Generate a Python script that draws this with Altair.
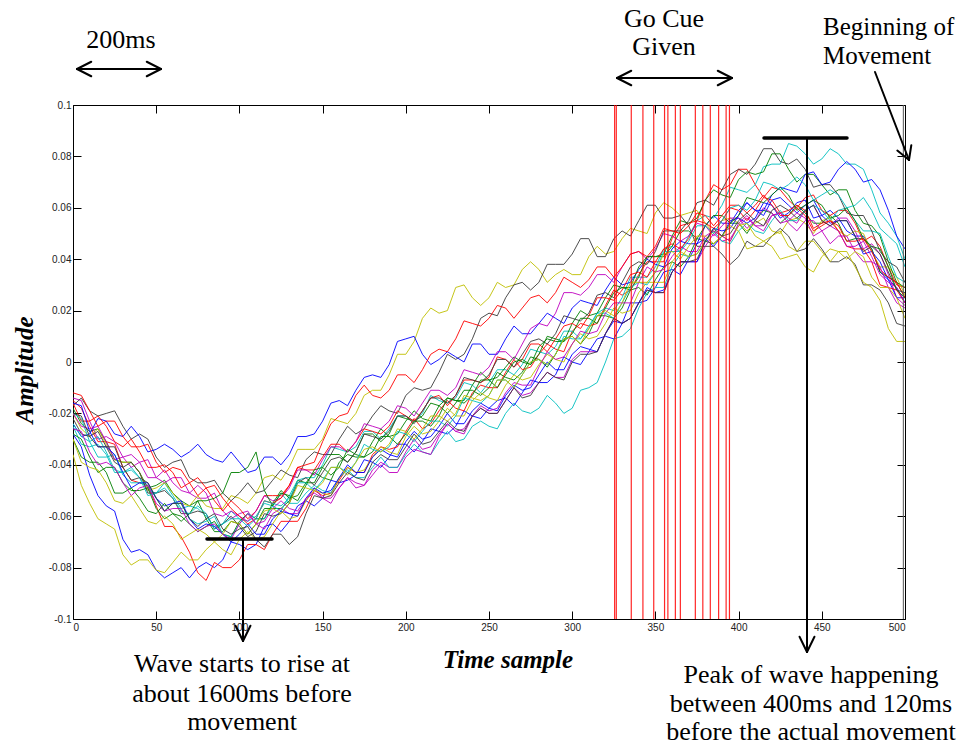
import altair as alt
import pandas as pd
import math

# ---------------- data ----------------
sample_index = list(range(0, 501, 5))

# amplitudes, in thousandths (x 0.001), one value every 5 samples
blue_1 = [-28,-33,-44,-52,-56,-58,-69,-74,-73,-75,-81,-84,-82,-80,-84,-80,-78,-80,-77,-70,-71,-73,-71,-64,-63,-66,-62,-56,-54,-56,-53,-46,-47,-46,-44,-38,-39,-41,-37,-32,-32,-35,-31,-26,-27,-28,-25,-19,-21,-22,-18,-15,-14,-17,-12,-7,-8,-8,-5,2,0,-1,4,9,10,9,15,23,23,24,29,35,36,34,40,46,48,45,49,55,56,54,56,62,61,56,58,62,63,56,57,59,56,51,49,49,44,35,32,29,23]
green_1 = [-18,-24,-27,-26,-31,-38,-39,-39,-43,-49,-48,-46,-51,-54,-56,-54,-61,-66,-66,-62,-63,-67,-63,-57,-57,-57,-54,-46,-47,-47,-41,-36,-36,-39,-35,-28,-28,-31,-28,-21,-22,-23,-21,-16,-17,-20,-16,-11,-11,-13,-10,-4,-6,-7,-4,2,1,-2,3,9,10,7,11,18,18,17,21,28,29,26,32,37,39,37,41,48,47,46,49,54,54,50,55,59,58,54,57,61,58,54,54,57,54,47,48,48,44,35,33,31,25]
red_1 = [-15,-18,-25,-31,-31,-32,-41,-46,-47,-48,-56,-64,-64,-68,-74,-82,-85,-78,-80,-80,-77,-71,-71,-73,-67,-62,-62,-62,-57,-50,-52,-51,-46,-41,-43,-43,-36,-33,-34,-33,-27,-22,-26,-24,-19,-15,-18,-19,-12,-9,-10,-10,-4,1,-3,-2,3,7,5,4,12,15,14,15,22,28,26,28,34,39,39,39,48,53,54,55,63,69,67,69,75,75,69,64,68,67,63,60,64,65,59,57,59,59,54,47,49,45,37,30,29]
cyan_1 = [-25,-32,-33,-32,-36,-43,-43,-41,-45,-50,-51,-47,-52,-57,-56,-57,-60,-64,-63,-58,-61,-62,-60,-55,-56,-58,-52,-46,-45,-45,-40,-33,-34,-35,-33,-27,-27,-30,-26,-21,-21,-23,-20,-13,-15,-16,-14,-8,-9,-12,-8,-3,-3,-5,-1,5,4,3,6,12,12,9,14,19,21,20,25,33,33,33,37,44,45,43,49,55,57,56,61,68,67,66,69,76,77,77,85,84,81,77,79,83,81,77,77,75,67,58,54,49,40]
magenta_1 = [-14,-15,-23,-30,-29,-31,-37,-41,-39,-38,-45,-47,-45,-45,-51,-53,-53,-51,-58,-61,-59,-58,-63,-65,-59,-57,-59,-59,-54,-49,-53,-53,-49,-45,-47,-48,-42,-39,-41,-41,-35,-30,-34,-33,-28,-24,-27,-28,-21,-18,-20,-20,-15,-10,-13,-12,-8,-4,-6,-6,1,4,4,4,11,17,15,17,23,28,27,27,35,39,39,39,45,50,47,48,53,56,53,51,57,58,56,54,59,61,55,53,56,56,51,44,46,42,34,25,22]
yellow_1 = [-20,-26,-29,-26,-32,-38,-39,-39,-43,-50,-49,-47,-51,-55,-56,-52,-56,-57,-57,-52,-53,-55,-51,-45,-44,-46,-41,-34,-34,-34,-30,-22,-23,-24,-20,-13,-11,-11,-5,3,3,8,17,21,19,20,29,30,25,22,25,31,29,30,36,39,36,31,34,36,34,34,41,45,42,43,48,52,51,50,58,62,60,57,58,59,54,50,55,56,54,51,54,56,51,50,55,56,54,50,55,56,51,49,51,50,43,37,37,33,26]
black_1 = [-17,-14,-19,-21,-20,-19,-25,-30,-28,-30,-37,-41,-39,-38,-45,-47,-47,-46,-51,-54,-51,-47,-51,-50,-46,-42,-44,-45,-38,-35,-36,-36,-30,-25,-28,-26,-21,-17,-19,-20,-13,-10,-11,-10,-4,3,1,3,9,17,19,18,25,30,31,28,31,38,38,38,42,48,48,41,41,48,51,49,55,61,61,56,56,57,53,45,45,45,42,38,41,47,45,45,49,52,49,43,44,48,44,39,39,41,38,30,30,28,23,15,14]
blue_2 = [-24,-29,-28,-22,-23,-28,-29,-25,-29,-35,-34,-32,-34,-37,-35,-32,-36,-38,-39,-35,-39,-43,-42,-37,-37,-40,-36,-29,-29,-28,-23,-16,-15,-17,-11,-6,-5,-6,-1,8,9,10,3,-1,1,4,2,0,7,7,3,3,9,14,11,11,15,19,17,15,21,24,23,22,28,33,30,31,36,40,38,37,44,47,46,46,53,57,54,54,59,62,59,57,63,64,61,58,61,63,57,54,55,55,49,42,43,39,32,25,25]
green_2 = [-28,-30,-37,-43,-41,-41,-47,-50,-50,-49,-57,-61,-59,-60,-63,-66,-64,-62,-67,-68,-62,-59,-61,-61,-55,-50,-53,-52,-47,-43,-45,-46,-39,-36,-37,-37,-31,-26,-29,-28,-23,-19,-22,-23,-17,-14,-15,-15,-9,-4,-7,-6,-2,2,0,-1,6,9,8,8,15,20,18,19,25,30,29,29,37,41,41,42,49,55,54,56,63,67,65,64,71,74,73,74,81,81,75,70,73,73,69,65,67,67,59,54,53,49,39,31,29]
red_2 = [-16,-23,-23,-21,-25,-31,-33,-30,-35,-41,-41,-40,-43,-49,-47,-45,-49,-54,-58,-54,-57,-61,-58,-52,-52,-52,-48,-41,-42,-42,-37,-32,-32,-35,-31,-26,-27,-28,-25,-19,-21,-23,-19,-14,-13,-17,-13,-7,-7,-8,-6,2,1,-2,1,7,7,4,9,14,15,13,18,25,25,24,28,34,35,33,39,44,46,44,48,55,54,52,55,60,59,55,59,64,63,58,59,61,59,52,54,55,51,45,44,44,39,30,29,28,23]
cyan_2 = [-20,-22,-31,-37,-37,-36,-44,-47,-47,-48,-53,-58,-55,-55,-61,-63,-62,-60,-67,-68,-63,-59,-61,-61,-56,-51,-55,-55,-51,-48,-50,-51,-45,-42,-45,-45,-41,-37,-41,-41,-36,-32,-35,-36,-31,-27,-31,-30,-25,-23,-25,-26,-20,-16,-19,-20,-18,-13,-16,-20,-18,-11,-10,-8,0,9,10,13,21,27,29,29,37,42,41,42,47,51,47,46,51,54,51,50,55,59,55,55,59,61,59,55,59,60,55,51,51,50,41,33,31]
magenta_2 = [-20,-25,-26,-25,-31,-38,-37,-36,-39,-45,-45,-42,-47,-50,-51,-48,-51,-59,-60,-58,-60,-62,-58,-52,-54,-53,-49,-42,-42,-44,-38,-33,-33,-35,-31,-24,-25,-26,-23,-17,-18,-21,-16,-11,-11,-13,-10,-3,-4,-5,-2,4,4,1,7,13,15,14,19,27,27,26,29,34,34,31,37,42,43,40,44,50,49,47,49,54,53,49,53,56,56,52,55,60,58,54,55,58,56,49,51,53,51,45,45,47,41,34,31,29,23]
yellow_2 = [-36,-48,-55,-61,-63,-65,-75,-79,-77,-77,-81,-82,-78,-74,-77,-77,-73,-70,-73,-75,-69,-66,-69,-68,-63,-58,-61,-60,-54,-50,-51,-52,-45,-41,-43,-42,-37,-33,-35,-36,-29,-25,-28,-27,-23,-18,-21,-21,-15,-12,-14,-15,-9,-5,-7,-6,-1,3,1,0,7,11,9,10,15,21,19,20,27,31,31,31,39,43,41,42,47,51,49,47,53,54,49,47,49,51,45,43,47,47,43,39,43,43,37,31,29,24,13,8,8]
black_2 = [-22,-28,-29,-27,-33,-39,-41,-39,-43,-51,-51,-50,-53,-59,-59,-58,-59,-65,-63,-60,-64,-68,-66,-59,-60,-59,-55,-47,-45,-48,-43,-38,-37,-39,-35,-28,-29,-30,-27,-21,-21,-24,-19,-14,-14,-16,-13,-6,-7,-8,-5,1,1,-2,3,8,9,7,11,18,17,16,19,26,27,25,31,37,39,38,43,51,51,51,55,62,63,61,67,73,75,73,77,83,83,78,77,79,75,68,69,69,65,58,57,57,51,43,39,37,31]
blue_3 = [-16,-17,-27,-33,-33,-36,-43,-49,-47,-47,-53,-56,-55,-54,-61,-65,-63,-64,-67,-70,-67,-63,-67,-67,-61,-58,-59,-60,-53,-49,-51,-50,-45,-40,-43,-43,-37,-34,-36,-37,-31,-27,-30,-29,-25,-20,-24,-24,-19,-16,-18,-19,-13,-9,-11,-10,-5,0,-3,-3,3,6,5,4,11,16,15,17,23,29,27,28,35,39,39,39,47,52,51,52,57,62,59,59,65,68,67,66,73,74,69,70,75,78,75,70,71,67,59,49,44]
green_3 = [-30,-37,-39,-39,-43,-51,-51,-49,-53,-58,-59,-55,-59,-62,-59,-54,-54,-53,-51,-43,-43,-41,-35,-50,-56,-51,-52,-54,-48,-42,-41,-44,-41,-34,-36,-37,-35,-29,-29,-32,-28,-23,-23,-25,-21,-14,-15,-16,-13,-7,-7,-10,-5,0,1,-1,3,10,9,8,11,17,17,15,21,27,29,28,33,41,41,41,45,51,51,48,53,57,57,54,57,64,63,62,65,68,65,59,61,63,61,56,57,60,55,48,45,44,37,28,25]
red_3 = [-12,-13,-19,-25,-23,-23,-29,-33,-33,-32,-39,-43,-41,-42,-47,-52,-49,-48,-53,-57,-60,-63,-61,-54,-55,-53,-48,-41,-40,-39,-31,-24,-21,-20,-13,-9,-13,-14,-11,-5,-5,-8,-3,3,5,4,9,16,15,14,17,22,21,17,21,25,26,23,27,33,31,29,32,37,37,33,37,42,43,41,45,52,51,50,53,58,57,53,57,61,61,58,61,65,61,57,57,60,57,51,53,55,53,47,47,48,43,36,33,31,25]
cyan_3 = [-24,-29,-31,-29,-35,-42,-43,-42,-45,-52,-51,-49,-53,-58,-59,-56,-59,-65,-63,-61,-61,-64,-61,-54,-55,-56,-53,-47,-47,-50,-46,-41,-41,-43,-39,-32,-34,-35,-33,-27,-28,-31,-27,-23,-23,-25,-21,-14,-15,-16,-13,-7,-7,-10,-5,0,1,-1,3,10,9,9,13,19,19,17,23,29,31,30,35,43,43,43,47,53,53,50,55,60,61,59,63,70,69,67,69,72,69,63,65,67,65,60,61,64,59,52,49,46,37]
magenta_3 = [-26,-27,-35,-40,-39,-41,-47,-52,-49,-48,-55,-58,-57,-57,-63,-66,-64,-63,-67,-69,-63,-59,-63,-62,-57,-54,-57,-58,-53,-51,-53,-55,-49,-45,-49,-48,-44,-40,-43,-43,-37,-34,-35,-36,-29,-24,-27,-26,-21,-17,-19,-18,-12,-8,-9,-9,-2,4,1,2,7,12,11,12,19,23,23,23,31,37,35,36,41,45,43,43,49,51,49,47,54,57,53,53,57,58,54,51,55,55,51,46,49,49,43,39,39,37,29,23,21]
yellow_3 = [-30,-39,-41,-42,-47,-54,-55,-52,-57,-62,-63,-60,-63,-69,-67,-65,-67,-70,-67,-62,-63,-67,-63,-58,-57,-59,-55,-48,-49,-50,-47,-41,-41,-44,-39,-34,-33,-35,-32,-26,-27,-30,-26,-21,-21,-23,-20,-13,-14,-15,-13,-7,-7,-10,-5,0,1,-1,3,9,10,7,13,18,20,18,23,31,31,31,35,42,43,40,45,49,49,46,49,53,51,44,45,47,45,40,41,42,37,35,41,44,43,40,43,41,33,29,29,25,17]
black_3 = [-20,-21,-29,-33,-33,-33,-41,-46,-45,-47,-53,-58,-55,-55,-61,-64,-61,-59,-65,-67,-65,-64,-69,-72,-67,-67,-71,-68,-59,-52,-53,-52,-47,-43,-45,-46,-39,-36,-38,-38,-33,-28,-32,-31,-27,-23,-26,-27,-21,-18,-20,-20,-15,-10,-14,-13,-8,-4,-6,-7,0,3,3,4,11,17,15,17,23,28,27,27,35,39,39,40,47,52,49,50,55,58,55,53,59,61,59,56,59,61,55,53,55,55,49,43,45,42,35,28,27]

trial_names = ["blue_1", "green_1", "red_1", "cyan_1", "magenta_1", "yellow_1", "black_1",
               "blue_2", "green_2", "red_2", "cyan_2", "magenta_2", "yellow_2", "black_2",
               "blue_3", "green_3", "red_3", "cyan_3", "magenta_3", "yellow_3", "black_3"]
trial_values = [blue_1, green_1, red_1, cyan_1, magenta_1, yellow_1, black_1,
                blue_2, green_2, red_2, cyan_2, magenta_2, yellow_2, black_2,
                blue_3, green_3, red_3, cyan_3, magenta_3, yellow_3, black_3]
matlab_colors = ["#0000FF", "#008000", "#FF0000", "#00BFBF", "#BF00BF", "#BFBF00", "#3A3A3A"]
trial_colors = [matlab_colors[i % 7] for i in range(len(trial_names))]

cue_onsets = [325.5, 326.5, 335.5, 342.5, 349, 355.5, 357.5, 362, 365, 374, 378.5, 383, 388, 392.5, 394.5]
movement_onset = [499]

x_ticks = [0, 50, 100, 150, 200, 250, 300, 350, 400, 450, 500]
y_ticks = [-0.1, -0.08, -0.06, -0.04, -0.02, 0, 0.02, 0.04, 0.06, 0.08, 0.1]

rows = []
for name, vals in zip(trial_names, trial_values):
    assert len(vals) == len(sample_index), (name, len(vals))
    for s, v in zip(sample_index, vals):
        rows.append({"sample": s, "amplitude": v / 1000.0, "trial": name})
traces = pd.DataFrame(rows)

# ---------------- geometry (page pixels -> data) ----------------
L, T, W, H = 73, 105, 832, 514
X_DOM = [0, 500]
Y_DOM = [-0.1, 0.1]


def dx(px):
    return X_DOM[0] + (px - L) * (X_DOM[1] - X_DOM[0]) / W


def dy(py):
    return Y_DOM[1] - (py - T) * (Y_DOM[1] - Y_DOM[0]) / H


segs = []


def seg(x1, y1, x2, y2, w):
    segs.append({"x1": dx(x1), "y1": dy(y1), "x2": dx(x2), "y2": dy(y2), "w": w})


def head(tipx, tipy, fromx, fromy, length=16, ang=27, w=2):
    vx, vy = fromx - tipx, fromy - tipy
    n = math.hypot(vx, vy)
    vx, vy = vx / n, vy / n
    for a in (ang, -ang):
        r = math.radians(a)
        wx = vx * math.cos(r) - vy * math.sin(r)
        wy = vx * math.sin(r) + vy * math.cos(r)
        seg(tipx, tipy, tipx + wx * length, tipy + wy * length, w)


def arrow(x1, y1, x2, y2, both=False, w=2, length=16, ang=27):
    seg(x1, y1, x2, y2, w)
    head(x2, y2, x1, y1, length, ang, w)
    if both:
        head(x1, y1, x2, y2, length, ang, w)


arrow(77, 69, 161, 69, both=True)            # 200ms
arrow(617, 78, 732, 78, both=True)           # go cue
arrow(875, 72, 909, 160, w=2, length=15, ang=30)  # beginning of movement
seg(207, 539, 272, 539, 3.5)                 # min bar
arrow(243, 539, 243, 641, w=2, length=17, ang=26)
seg(764, 138, 847, 138, 3.5)                 # peak bar
arrow(807, 138, 807, 652, w=2, length=17, ang=26)
seg_df = pd.DataFrame(segs)

center_texts = pd.DataFrame([
    {"t": "200ms", "x": dx(121), "y": dy(48)},
    {"t": "Go Cue", "x": dx(664), "y": dy(27)},
    {"t": "Given", "x": dx(664), "y": dy(55)},
    {"t": "Wave starts to rise at", "x": dx(242), "y": dy(672)},
    {"t": "about 1600ms before", "x": dx(242), "y": dy(702)},
    {"t": "movement", "x": dx(242), "y": dy(730)},
    {"t": "Peak of wave happening", "x": dx(811), "y": dy(683)},
    {"t": "between 400ms and 120ms", "x": dx(811), "y": dy(712)},
    {"t": "before the actual movement", "x": dx(811), "y": dy(740)},
])
left_texts = pd.DataFrame([
    {"t": "Beginning of", "x": dx(823), "y": dy(35)},
    {"t": "Movement", "x": dx(823), "y": dy(64)},
])
xtitle = pd.DataFrame([{"t": "Time sample", "x": dx(508), "y": dy(668)}])
ytitle = pd.DataFrame([{"t": "Amplitude", "x": dx(33), "y": dy(370)}])

# ---------------- chart ----------------
xs = alt.Scale(domain=X_DOM, nice=False, zero=False)
ys = alt.Scale(domain=Y_DOM, nice=False, zero=False)

label_expr = "datum.value < 0 ? '-' + format(-datum.value, '.2~f') : format(datum.value, '.2~f')"

ax_common = dict(domain=False, grid=False, tickSize=8, offset=-8, tickColor="black",
                 tickWidth=1, title=None, labelFont="Liberation Sans", labelFontSize=10,
                 labelColor="#222222")

lines = alt.Chart(traces).mark_line(strokeWidth=1, opacity=0.9, clip=True).encode(
    x=alt.X("sample:Q", scale=xs,
            axis=alt.Axis(orient="bottom", values=x_ticks, labelPadding=3, format="d", **ax_common)),
    y=alt.Y("amplitude:Q", scale=ys,
            axis=alt.Axis(orient="left", values=y_ticks, labelPadding=2, labelExpr=label_expr, **ax_common)),
    color=alt.Color("trial:N", scale=alt.Scale(domain=trial_names, range=trial_colors), legend=None),
)

cues = alt.Chart(pd.DataFrame({"onset": cue_onsets})).mark_rule(
    color="#FF0000", strokeWidth=1.2, opacity=0.85).encode(
    x=alt.X("onset:Q", scale=xs, axis=None))

move = alt.Chart(pd.DataFrame({"onset": movement_onset})).mark_rule(
    color="#555555", strokeWidth=1).encode(
    x=alt.X("onset:Q", scale=xs, axis=None))

ann = alt.Chart(seg_df).mark_rule(color="black", strokeCap="round").encode(
    x=alt.X("x1:Q", scale=xs,
            axis=alt.Axis(orient="top", values=x_ticks, labels=False, **ax_common)),
    y=alt.Y("y1:Q", scale=ys,
            axis=alt.Axis(orient="right", values=y_ticks, labels=False, **ax_common)),
    x2="x2:Q",
    y2="y2:Q",
    strokeWidth=alt.StrokeWidth("w:Q", scale=None),
)

serif = "Liberation Serif"
t_center = alt.Chart(center_texts).mark_text(
    font=serif, fontSize=26, align="center", baseline="alphabetic", color="black").encode(
    x=alt.X("x:Q", scale=xs, axis=None), y=alt.Y("y:Q", scale=ys, axis=None), text="t:N")
t_left = alt.Chart(left_texts).mark_text(
    font=serif, fontSize=25, align="left", baseline="alphabetic", color="black").encode(
    x=alt.X("x:Q", scale=xs, axis=None), y=alt.Y("y:Q", scale=ys, axis=None), text="t:N")
t_x = alt.Chart(xtitle).mark_text(
    font=serif, fontSize=25, fontWeight="bold", fontStyle="italic", align="center",
    baseline="alphabetic", color="black").encode(
    x=alt.X("x:Q", scale=xs, axis=None), y=alt.Y("y:Q", scale=ys, axis=None), text="t:N")
t_y = alt.Chart(ytitle).mark_text(
    font=serif, fontSize=25, fontWeight="bold", fontStyle="italic", align="center",
    baseline="alphabetic", angle=270, color="black").encode(
    x=alt.X("x:Q", scale=xs, axis=None), y=alt.Y("y:Q", scale=ys, axis=None), text="t:N")

chart = alt.layer(lines, cues, move, ann, t_center, t_left, t_x, t_y).resolve_axis(
    x="independent", y="independent"
).properties(
    width=W, height=H,
    autosize=alt.AutoSizeParams(type="none"),
    padding={"left": L, "top": T, "right": 967 - L - W, "bottom": 749 - T - H},
    background="white",
).configure_view(stroke="black", strokeWidth=1)

chart.save("out.html", embed_options={"renderer": "svg", "actions": False})
